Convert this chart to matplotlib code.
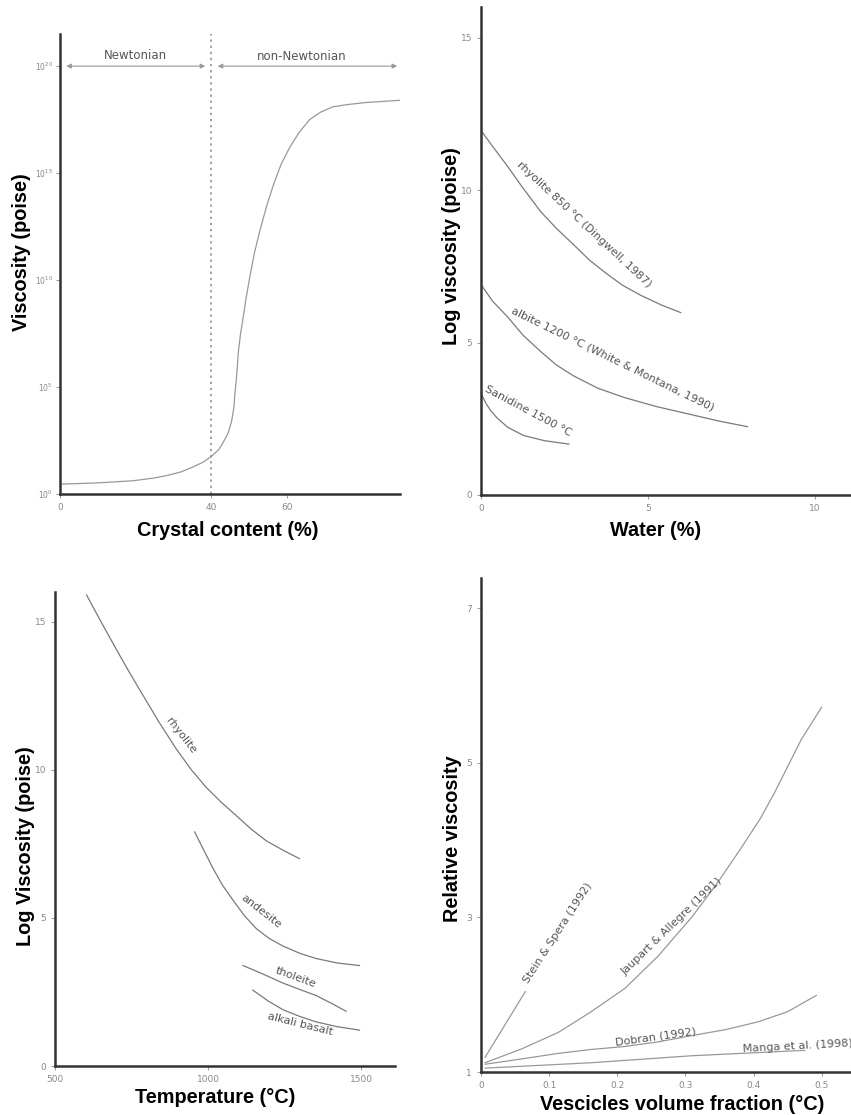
import matplotlib.pyplot as plt
import numpy as np

# --- panel A: crystal content vs viscosity (log10 poise) ---
crystal_pct = [0, 10, 19.4, 25, 28.2, 32, 35.3, 38, 40.1, 42, 43.2, 44.5, 45.4, 46.0,
               46.3, 46.8, 47.2, 47.8, 48.5, 49.3, 50.3, 51.5, 52.9, 54.6, 56.4, 58.5,
               60.8, 63.3, 66.1, 69, 72.3, 76, 81.1, 89.9]
crystal_logv = [0.46, 0.52, 0.62, 0.75, 0.86, 1.03, 1.27, 1.5, 1.76, 2.07, 2.41, 2.85,
                3.38, 4.0, 4.68, 5.6, 6.63, 7.5, 8.26, 9.2, 10.2, 11.3, 12.3, 13.4, 14.4,
                15.4, 16.2, 16.9, 17.5, 17.85, 18.1, 18.2, 18.3, 18.4]
crystal_yticks = [0, 5, 10, 15, 20]
crystal_xticks = [0, 40, 60]

# --- panel B: water vs log viscosity ---
rhy_water = [0, 0.3, 0.78, 1.2, 1.78, 2.25, 2.78, 3.25, 3.78, 4.25, 4.78, 5.4, 5.98]
rhy_logv = [11.95, 11.5, 10.8, 10.15, 9.3, 8.75, 8.2, 7.7, 7.24, 6.87, 6.55, 6.23, 5.98]
alb_water = [0, 0.35, 0.78, 1.25, 1.78, 2.25, 2.78, 3.5, 4.28, 5.25, 6.28, 7.1, 7.98]
alb_logv = [6.9, 6.35, 5.86, 5.25, 4.71, 4.27, 3.9, 3.5, 3.2, 2.9, 2.64, 2.43, 2.24]
san_water = [0, 0.15, 0.3, 0.48, 0.8, 1.28, 1.9, 2.63]
san_logv = [3.33, 3.0, 2.75, 2.53, 2.22, 1.95, 1.78, 1.67]

# --- panel C: temperature vs log viscosity ---
rhyT = [603, 650, 701, 745, 788, 840, 896, 945, 994, 1043, 1092, 1140, 1190, 1245, 1298]
rhyV = [15.9, 15.0, 14.05, 13.25, 12.5, 11.6, 10.7, 10.0, 9.4, 8.9, 8.45, 8.0, 7.6, 7.28, 7.0]
andT = [956, 985, 1016, 1047, 1081, 1118, 1157, 1200, 1244, 1300, 1352, 1420, 1494]
andV = [7.9, 7.3, 6.67, 6.1, 5.6, 5.08, 4.64, 4.3, 4.05, 3.8, 3.63, 3.48, 3.39]
thoT = [1114, 1180, 1244, 1300, 1352, 1400, 1450]
thoV = [3.39, 3.1, 2.8, 2.58, 2.38, 2.13, 1.85]
alkT = [1146, 1195, 1244, 1300, 1352, 1420, 1494]
alkV = [2.56, 2.2, 1.9, 1.67, 1.49, 1.33, 1.21]

# --- panel D: vesicle fraction vs relative viscosity ---
stein_x = [0.006, 0.065]
stein_y = [1.19, 2.04]
jaup_x = [0.006, 0.06, 0.113, 0.16, 0.211, 0.26, 0.309, 0.345, 0.382, 0.41, 0.43, 0.45, 0.47, 0.5]
jaup_y = [1.12, 1.3, 1.51, 1.77, 2.08, 2.5, 3.0, 3.42, 3.9, 4.28, 4.6, 4.95, 5.3, 5.72]
dob_x = [0.006, 0.06, 0.113, 0.16, 0.211, 0.26, 0.309, 0.36, 0.407, 0.45, 0.492]
dob_y = [1.10, 1.17, 1.24, 1.29, 1.33, 1.39, 1.47, 1.55, 1.65, 1.78, 1.99]
manga_x = [0.006, 0.162, 0.309, 0.475]
manga_y = [1.05, 1.12, 1.21, 1.28]

LINE = '#7a7a7a'
TXT = '#555555'
TICK = '#888888'

fig = plt.figure(figsize=(8.51, 11.15), dpi=100)
W, H = 851, 1115

def make_ax(left, top, right, bottom):
    ax = fig.add_axes([left / W, 1 - bottom / H, (right - left) / W, (bottom - top) / H])
    for s in ['top', 'right']:
        ax.spines[s].set_visible(False)
    for s in ['left', 'bottom']:
        ax.spines[s].set_linewidth(1.8)
        ax.spines[s].set_color('#333333')
    ax.tick_params(labelsize=6.5, labelcolor=TICK, color=TICK, length=3, width=0.6)
    return ax

lab = dict(fontsize=14.3, fontweight='bold', family='Liberation Sans')
ann = dict(fontsize=8, color=TXT, ha='center', va='center')

def labels(ax, xl, yl, xpos, ypos):
    ax.set_xlabel(xl, **lab)
    ax.set_ylabel(yl, **lab)
    ax.xaxis.set_label_coords(*xpos)
    ax.yaxis.set_label_coords(*ypos)
    ax.xaxis.label.set_va('center')
    ax.yaxis.label.set_va('center')

# A
ax = make_ax(60, 34, 400, 494)
ax.plot(crystal_pct, np.power(10.0, crystal_logv), color='#999999', lw=0.9)
ax.set_yscale('log')
ax.set_xlim(0, 90)
ax.set_ylim(1, 10 ** 21.5)
ax.set_xticks(crystal_xticks)
ax.set_yticks([10.0 ** t for t in crystal_yticks])
ax.set_yticklabels([r'$10^{%d}$' % t for t in crystal_yticks])
ax.tick_params(axis='y', labelsize=5.5, pad=2)
ax.minorticks_off()
ax.axvline(40, color='#888888', ls=(0, (1.5, 2.5)), lw=1.1)
arr = dict(arrowstyle='<|-|>', color='#999999', lw=0.8, mutation_scale=7)
ax.annotate('', xy=(0.9, 1e20), xytext=(39.2, 1e20), arrowprops=arr)
ax.annotate('', xy=(41, 1e20), xytext=(90, 1e20), arrowprops=arr, annotation_clip=False)
ax.text(20.1, 10 ** 20.5, 'Newtonian', fontsize=8.5, color=TXT, ha='center', va='center')
ax.text(63.9, 10 ** 20.45, 'non-Newtonian', fontsize=8.5, color=TXT, ha='center', va='center')
labels(ax, 'Crystal content (%)', 'Viscosity (poise)', (0.494, -0.08), (-0.112, 0.526))

# B
ax = make_ax(481, 7, 850, 495)
ax.plot(rhy_water, rhy_logv, color=LINE, lw=0.9)
ax.plot(alb_water, alb_logv, color=LINE, lw=0.9)
ax.plot(san_water, san_logv, color=LINE, lw=0.9)
ax.set_xlim(0, 11.05)
ax.set_ylim(0, 16)
ax.set_xticks([0, 5, 10])
ax.set_yticks([0, 5, 10, 15])
ax.text(3.08, 8.88, 'rhyolite 850 °C (Dingwell, 1987)', rotation=-43, **ann)
ax.text(3.95, 4.45, 'albite 1200 °C (White & Montana, 1990)', rotation=-26, **ann)
ax.text(1.42, 2.75, 'Sanidine 1500 °C', rotation=-28, **ann)
labels(ax, 'Water (%)', 'Log viscosity (poise)', (0.474, -0.072), (-0.079, 0.51))

# C
ax = make_ax(55, 592, 395, 1066)
for tx, vy in [(rhyT, rhyV), (andT, andV), (thoT, thoV), (alkT, alkV)]:
    ax.plot(tx, vy, color=LINE, lw=0.9)
ax.set_xlim(500, 1610)
ax.set_ylim(0, 16)
ax.set_xticks([500, 1000, 1500])
ax.set_yticks([0, 5, 10, 15])
ax.text(910, 11.15, 'rhyolite', rotation=-52, **ann)
ax.text(1172, 5.2, 'andesite', rotation=-38, **ann)
ax.text(1285, 2.98, 'tholeite', rotation=-20, **ann)
ax.text(1300, 1.42, 'alkali basalt', rotation=-14, **ann)
labels(ax, 'Temperature (°C)', 'Log Viscosity (poise)', (0.47, -0.0675), (-0.088, 0.464))

# D
ax = make_ax(481, 578, 851, 1072)
for vx, vy in [(stein_x, stein_y), (jaup_x, jaup_y), (dob_x, dob_y), (manga_x, manga_y)]:
    ax.plot(vx, vy, color='#999999', lw=0.9)
ax.set_xlim(0, 0.543)
ax.set_ylim(1, 7.39)
ax.set_xticks([0, 0.1, 0.2, 0.3, 0.4, 0.5])
ax.set_xticklabels(['0', '0.1', '0.2', '0.3', '0.4', '0.5'])
ax.set_yticks([1, 3, 5, 7])
ax.text(0.113, 2.8, 'Stein & Spera (1992)', rotation=57, **ann)
ax.text(0.28, 2.89, 'Jaupart & Allegre (1991)', rotation=44, **ann)
ax.text(0.256, 1.45, 'Dobran (1992)', rotation=8, **ann)
ax.text(0.384, 1.33, 'Manga et al. (1998)', rotation=3, fontsize=8, color=TXT,
        ha='left', va='center', clip_on=False)
labels(ax, 'Vescicles volume fraction (°C)', 'Relative viscosity', (0.543, -0.0668), (-0.078, 0.472))

fig.savefig('out.png', dpi=100, facecolor='white')
